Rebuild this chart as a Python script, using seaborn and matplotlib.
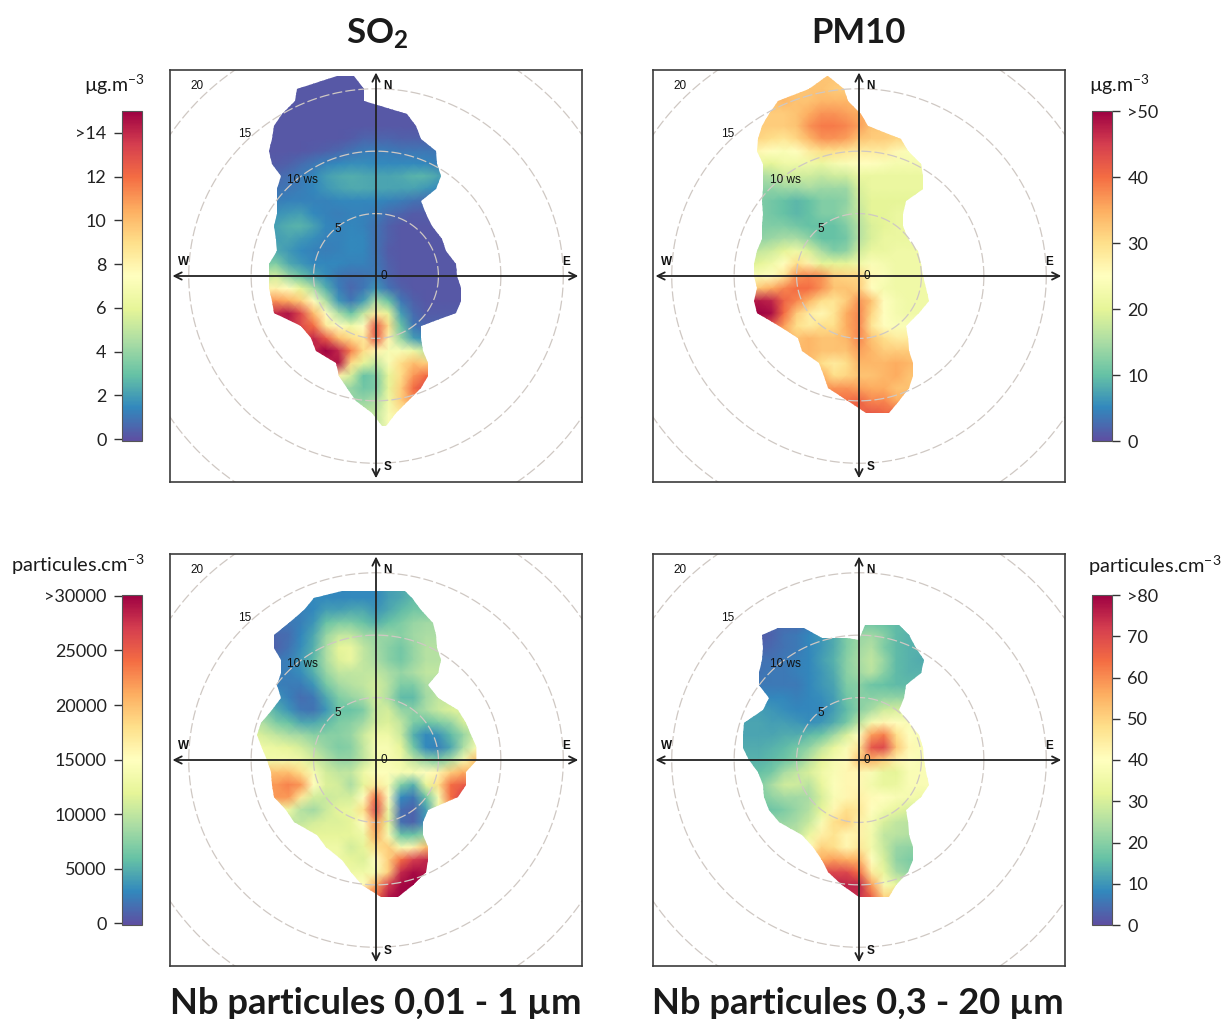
# plot.py
# Roses de pollution (SO2, PM10, nombre de particules) vent / concentration
import numpy as np
import matplotlib
matplotlib.use("Agg")
import matplotlib.pyplot as plt
from matplotlib.patches import Polygon
import seaborn as sns

sns.set_theme(style="white")
plt.rcParams["font.family"] = ["Lato", "DejaVu Sans"]
plt.rcParams["mathtext.fontset"] = "custom"
plt.rcParams["mathtext.rm"] = "Lato"
plt.rcParams["mathtext.bf"] = "Lato:bold"
plt.rcParams["mathtext.default"] = "rm"

# lignes du contour (de 16 a -12 ws), bords gauche / droit
rows_y = list(range(16, -13, -1))
nan = float("nan")

# chaque ligne de valeurs : (ws est-ouest de la 1ere valeur, valeurs tous les 1 ws)
so2_x = list(range(-9, 8))
so2_y = list(range(16, -13, -1))
so2_rows = [
    (-9, [.2]), (-9, [.2]), (-9, [.2]), (-9, [.2]), (-9, [.2]),
    (-4, [.2, .2, .3, .5, .5, .5, .4, .4, .4, .4]),
    (-8, [.2, .2, .2, .3, .4, .6, .9, 1.1, 1.2, 1.1, 1.0, 1.0, 1.0, 1.0]),
    (-8, [.3, .4, .7, 1.0, 1.3, 1.5, 1.6, 1.6, 1.5, 1.5, 1.5, 1.5, 1.4, 1.2]),
    (-8, [.6, .8, 1.1, 1.4, 2.0, 2.3, 2.4, 2.3, 2.2, 2.2, 2.3, 2.6, 2.6, 2.2]),
    (-8, [.9, 1.0, 1.2, 1.4, 1.8, 2.1, 2.3, 2.3, 2.2, 2.2, 2.1, 2.1, 1.8, 1.5]),
    (-8, [1.2, 1.3, 1.3, 1.3, 1.3, 1.4, 1.4, 1.4, 1.4, 1.3, 1.1, .9, .7]),
    (-8, [1.7, 1.9, 2.0, 1.5, 1.3, 1.2, 1.3, 1.3, 1.1, .7, .5, .3, .3]),
    (-8, [2.1, 2.5, 2.6, 2.1, 1.4, 1.3, 1.4, 1.3, .9, .4, .2]),
    (-8, [2.0, 2.2, 1.9, 1.6, 1.3, 1.3, 1.5, 1.4, .9, .4, .2]),
    (-8, [2.3, 1.9, 1.5, 1.3, 1.2, 1.3, 1.5, 1.4, .9, .3, .2]),
    (-8, [3.5, 2.3, 1.8, 1.4, 1.4, 1.4, 1.3, 1.3, 1.0, .4, .2]),
    (-9, [5.0, 5.5, 4.0, 3.0, 2.2, 1.6, 1.0, .8, .9, 1.1, .5, .2]),
    (-8, [8.0, 7.5, 6.0, 4.5, 2.5, 1.2, .6, 1.0, 1.8, .9, .4, .2]),
    (-8, [11, 10.5, 9.5, 7.5, 4.5, 1.8, 1.0, 2.0, 4.5, 3.0, 1.0, .4, .2]),
    (-8, [14, 14.5, 13, 10, 7.5, 4.5, 3.0, 5.0, 8.5, 6.0, 2.0, .7, .3]),
    (-8, [14, 14, 13, 12, 8.5, 7.5, 6.5, 7.5, 12.5, 9.0, 3.0, 1.0, .5]),
    (-6, [12, 14, 12.5, 10, 9.0, 8.5, 12.5, 8.0, 4.0, 2.0, 1.5]),
    (-5, [14, 15, 14, 11.5, 9.0, 8.0, 7.0, 7.0, 6.5, 5.0]),
    (-4, [14, 14.5, 9.0, 6.0, 5.0, 7.0, 9.0, 10, 9.5]),
    (-3, [8.0, 5.5, 3.0, 3.5, 6.0, 9.0, 11, 12]),
    (-2, [4.0, 3.2, 3.5, 6.0, 9.5, 12, 13]),
    (-1, [4.0, 4.5, 6.5, 9.5, 11]),
    (0, [5.0, 7.0, 8.5]),
    (0, [5.0, 7.0]),
]
so2_left = [-3.1, -6.3, -6.5, -7.5, -8.2, -8.3, -8.6, -8.3, -7.6, -7.9, -7.9, -7.9, -8.2, -8.0, -7.9,
            -8.6, -8.6, -8.6, -8.3, -8.2, -6.0, -5.2, -4.8, -3.2, -3.0, -2.3, -1.6, -.3, .5]
so2_right = [-1.8, -1.0, -1.0, 2.5, 3.2, 3.6, 4.8, 4.9, 5.2, 4.8, 3.6, 4.0, 4.5, 5.3, 5.6,
             6.4, 6.5, 6.8, 6.8, 6.4, 3.6, 3.6, 3.8, 4.2, 4.2, 3.6, 2.6, 1.6, .8]

pm10_x = list(range(-9, 7))
pm10_y = list(range(16, -13, -1))
pm10_rows = [
    (-9, [33]),
    (-4, [33, 33, 32, 32]),
    (-7, [33, 34, 33, 33, 34, 34, 34, 33]),
    (-7, [32, 32, 33, 35, 37, 37, 36, 35]),
    (-8, [32, 32, 32, 33, 37, 39, 39, 38, 36, 33, 32, 32]),
    (-8, [31, 30, 29, 31, 34, 37, 37, 36, 33, 32, 32, 31, 31]),
    (-8, [26, 25, 24, 25, 28, 30, 30, 29, 28, 28, 28, 26, 24]),
    (-8, [21, 20, 22, 22, 22, 21, 23, 24, 25, 25, 24, 23, 23, 23]),
    (-8, [15, 16, 18, 18, 18, 17, 18, 18, 21, 21, 21, 21, 21, 21]),
    (-8, [13, 13, 14, 14, 15, 14, 14, 14, 19, 21, 21, 21, 21, 21]),
    (-8, [12, 11, 10, 9, 10, 12, 12, 13, 18, 20, 20, 20, 20]),
    (-8, [12, 11, 10, 9, 10, 12, 12, 14, 17, 20, 20, 21]),
    (-8, [12, 12, 12, 11, 10, 10, 10, 12, 16, 19, 20, 21, 21]),
    (-8, [13, 14, 15, 15, 13, 10, 10, 11, 16, 19, 21, 21, 21]),
    (-9, [16, 17, 18, 20, 22, 19, 15, 12, 13, 18, 21, 21, 22, 22, 22]),
    (-9, [19, 20, 22, 25, 30, 27, 20, 20, 20, 22, 24, 23, 22, 22, 22]),
    (-8, [24, 25, 29, 37, 38, 37, 32, 31, 31, 26, 24, 22, 22, 22]),
    (-9, [30, 33, 35, 38, 40, 40, 37, 33, 33, 32, 25, 23, 22, 22, 22]),
    (-9, [48, 48, 47, 41, 38, 34, 30, 29, 32, 37, 33, 25, 23, 22, 22]),
    (-9, [49, 50, 49, 40, 32, 28, 26, 29, 35, 38, 31, 25, 23, 22]),
    (-8, [45, 42, 36, 30, 28, 30, 30, 35, 38, 29, 25, 24, 24]),
    (-5, [33, 34, 33, 33, 34, 38, 33, 30, 28, 28]),
    (-4, [34, 33, 33, 33, 36, 34, 32, 32, 32]),
    (-4, [34, 30, 28, 30, 34, 34, 34, 35, 34]),
    (-3, [35, 30, 31, 33, 33, 34, 35, 33]),
    (-3, [36, 37, 37, 36, 35, 35, 33, 33]),
    (-1, [40, 41, 38, 38, 35]),
    (0, [41, 42, 41]),
    (0, [42]),
]
pm10_left = [-2.6, -4.0, -6.5, -7.2, -7.8, -8.1, -8.2, -7.7, -7.7, -7.7, -7.8, -7.7, -7.8, -7.8, -8.2,
             -8.4, -8.4, -8.2, -8.4, -8.2, -6.4, -4.9, -4.6, -3.2, -2.8, -2.5, -.9, .6, nan]
pm10_right = [-2.5, -1.2, -.9, .2, .7, 3.4, 3.9, 5.0, 5.1, 5.1, 3.8, 3.5, 3.5, 3.9, 4.7,
              5.0, 5.1, 5.4, 5.6, 4.8, 3.8, 3.9, 4.0, 4.3, 4.3, 4.0, 3.2, 2.4, nan]

# en milliers de particules
fines_x = list(range(-10, 9))
fines_y = list(range(14, -13, -1))
fines_rows = [
    (-5, [3.0, 3.0, 2.8, 3.0, 3.0, 3.0, 4.0, 4.5, 5.5]),
    (-5, [3.0, 3.0, 2.8, 3.0, 3.0, 3.0, 4.0, 4.5, 5.5]),
    (-6, [2.5, 3.0, 4.0, 4.0, 4.5, 4.5, 3.5, 4.5, 5.5, 6.5]),
    (-7, [2.0, 2.5, 3.5, 6.0, 7.0, 7.0, 6.0, 5.0, 6.0, 7.0, 8.0, 8.5]),
    (-8, [1.2, 1.5, 2.8, 4.5, 8.0, 10, 10, 8.5, 8.0, 8.0, 7.5, 8.5, 9.0]),
    (-8, [1.0, 1.8, 3.2, 5.0, 9.0, 12, 12.5, 10, 8.5, 7.5, 6.5, 8.0, 9.5]),
    (-8, [2.0, 2.5, 3.8, 5.5, 9.0, 11.5, 12.5, 10, 9.0, 7.5, 6.5, 8.0, 9.5]),
    (-8, [2.3, 2.5, 3.2, 5.0, 8.0, 10, 10, 10, 10, 9.0, 8.0, 9.0, 10]),
    (-8, [2.5, 2.3, 2.3, 3.5, 6.5, 8.5, 9.5, 10, 11, 9.5, 7.0, 7.0, 9.0]),
    (-8, [3.5, 2.5, 1.5, 2.0, 4.5, 7.0, 8.0, 9.0, 11, 9.0, 5.5, 5.5, 8.5, 10]),
    (-9, [7.0, 5.0, 3.5, 2.0, 1.8, 3.5, 6.0, 6.0, 7.0, 10.5, 11, 8.0, 7.5, 9.0, 10.5, 11.5]),
    (-9, [9.0, 7.0, 6.0, 4.5, 4.5, 5.5, 7.0, 7.5, 8.5, 11, 11.5, 10, 7.0, 6.0, 7.0, 8.0, 11]),
    (-10, [12, 11, 10, 9.0, 8.5, 7.5, 7.5, 7.5, 8.0, 10.5, 13, 13, 10.5, 5.0, 3.0, 3.5, 5.5, 8.0, 11]),
    (-9, [13, 12.5, 12, 11, 9.5, 8.0, 7.0, 7.5, 10, 14, 14, 12, 6.5, 3.0, 2.5, 4.5, 9.0, 14]),
    (-9, [13, 13.5, 13.5, 13, 11, 9.5, 8.0, 8.0, 10, 13.5, 14, 13, 10, 8.0, 7.0, 9.0, 14, 20]),
    (-8, [20, 20, 18, 14, 11, 10, 10, 13, 14.5, 14.5, 14, 14, 15, 16, 19, 21, 18]),
    (-8, [22, 23, 22, 15, 11.5, 11, 9.0, 12, 17, 14, 7.0, 5.0, 12, 18, 24, 25]),
    (-8, [22, 22, 17, 11, 10.5, 11, 11, 15, 24, 15, 3.0, 2.0, 6.0, 14, 24, 27]),
    (-7, [13, 9.5, 8.5, 10.5, 12, 12.5, 18, 26, 13, 1.5, 1.0, 4.0, 13, 20]),
    (-6, [10, 11, 11.5, 11.5, 12, 15, 22, 12, 1.5, 1.0, 3.5]),
    (-4, [12, 12, 12, 13, 21, 14, 6.0, 6.0, 8.0]),
    (-4, [13, 13, 11, 12, 18, 19, 14, 16, 20]),
    (-3, [13, 12, 11.5, 15, 19, 24, 27, 28]),
    (-2, [13, 13, 14, 19, 28, 29.5, 29]),
    (-1, [15, 21, 27, 29.5, 30]),
    (0, [24, 29, 30]),
    (0, [24, 29, 30]),
]
fines_left = [nan, nan, nan, -5.0, -5.8, -7.0, -8.2, -8.2, -7.6, -7.6, -7.9, -7.6, -8.3, -9.2, -9.5,
              -9.1, -8.7, -8.4, -8.3, -8.2, -7.2, -6.6, -4.7, -4.0, -2.7, -2.0, -1.1, .4, nan]
fines_right = [nan, nan, nan, 2.9, 3.6, 4.6, 4.8, 4.9, 5.2, 5.0, 4.2, 5.0, 6.6, 7.2, 7.6,
               8.1, 8.1, 7.2, 7.2, 6.6, 4.2, 3.8, 3.8, 4.2, 4.2, 4.0, 3.0, 1.8, nan]
fines_top_x = [-2.7, 2.3]
fines_top_y = [13.5, 13.5]

grosses_x = list(range(-10, 7))
grosses_y = list(range(11, -12, -1))
grosses_rows = [
    (-7, [4, 4, 4, 6, 8, 10, 14, 17, 17, 16, 15]),
    (-8, [2, 3, 5, 6, 8, 10, 13, 19, 22, 23, 20, 15, 14]),
    (-8, [3, 4, 5, 6, 8, 10, 13, 19, 23, 25, 19, 15, 14, 14]),
    (-8, [5, 5, 6, 7, 8, 11, 14, 20, 24, 27, 22, 15, 14, 13]),
    (-8, [5, 6, 6, 7, 8, 10, 13, 20, 23, 26, 20, 15, 14, 14]),
    (-8, [6, 6, 6, 6, 8, 10, 12, 19, 20, 17, 16, 15, 15]),
    (-8, [8, 8, 8, 7, 8, 9, 11, 17, 20, 20, 21, 21]),
    (-9, [11, 11, 10, 9, 8, 8, 8, 11, 15, 20, 24, 29, 30]),
    (-9, [12, 12, 11, 11, 10, 9, 10, 13, 18, 26, 37, 42, 40, 38]),
    (-9, [12, 12, 12, 13, 13, 15, 17, 23, 30, 40, 58, 62, 48, 40, 37]),
    (-9, [13, 13, 14, 15, 18, 21, 27, 33, 38, 46, 68, 70, 52, 42, 38]),
    (-9, [14, 14, 15, 17, 20, 26, 32, 37, 41, 52, 55, 50, 43, 40, 38]),
    (-8, [16, 18, 24, 27, 30, 35, 38, 42, 42, 38, 33, 32, 38, 38]),
    (-8, [19, 24, 29, 29, 26, 33, 39, 42, 42, 36, 33, 34, 38, 38]),
    (-8, [19, 21, 23, 23, 24, 30, 38, 42, 44, 41, 40, 38, 37, 35]),
    (-7, [17, 19, 22, 25, 32, 42, 48, 46, 40, 36, 33, 30]),
    (-6, [22, 24, 28, 38, 48, 50, 44, 37, 30, 27, 26]),
    (-5, [26, 34, 44, 47, 42, 44, 36, 27, 26, 25]),
    (-4, [40, 50, 48, 42, 46, 36, 28, 22, 21]),
    (-4, [55, 56, 58, 56, 55, 40, 30, 21, 19]),
    (-3, [70, 70, 70, 64, 45, 33, 24, 21]),
    (-1, [75, 75, 58, 38, 33]),
    (0, [74, 66, 50]),
]
grosses_left = [nan, nan, nan, nan, nan, nan, -7.8, -7.7, -7.8, -8.0, -8.0, -7.2, -7.7, -9.2, -9.3,
                -9.3, -8.8, -8.1, -7.7, -7.6, -7.2, -6.4, -4.6, -3.7, -3.0, -2.5, -1.4, 0.0, nan]
grosses_right = [nan, nan, nan, nan, nan, nan, 4.0, 4.6, 5.2, 5.0, 3.8, 3.6, 3.2, 4.0, 4.8,
                 5.1, 5.2, 5.4, 5.6, 5.0, 3.8, 3.9, 4.0, 4.3, 4.3, 3.9, 3.0, 2.4, nan]
# haut du contour avec son encoche
grosses_top_x = [-6.5, -4.4, -3.0, -1.0, 0.0, .5, 3.2]
grosses_top_y = [10.6, 10.6, 9.8, 9.8, 9.6, 10.8, 10.8]

so2_ticks = [0, 2, 4, 6, 8, 10, 12, 14]
so2_labels = ["0", "2", "4", "6", "8", "10", "12", ">14"]
pm10_ticks = [0, 10, 20, 30, 40, 50]
pm10_labels = ["0", "10", "20", "30", "40", ">50"]
fines_ticks = [0, 5, 10, 15, 20, 25, 30]
fines_labels = ["0", "5000", "10000", "15000", "20000", "25000", ">30000"]
grosses_ticks = [0, 10, 20, 30, 40, 50, 60, 70, 80]
grosses_labels = ["0", "10", "20", "30", "40", "50", "60", "70", ">80"]

rings = [5, 10, 15, 20]
ring_labels = [("20", -14.3, 15.2), ("15", -10.5, 11.4), ("10 ws", -5.9, 7.7), ("5", -3.1, 3.8), ("0", .6, 0)]
compass = [("N", .95, 15.2), ("S", .95, -15.3), ("W", -15.4, 1.1), ("E", 15.2, 1.1)]

W, H = 1224, 1019
fig = plt.figure(figsize=(W / 100, H / 100), dpi=100, facecolor="white")
cmap = sns.color_palette("Spectral_r", as_cmap=True)
LIM = 16.5


def rect(x0, y0, x1, y1):
    return [x0 / W, 1 - y1 / H, (x1 - x0) / W, (y1 - y0) / H]


def contour(left, right, top_x=None, top_y=None):
    left_pts = [(x, y) for x, y in zip(left, rows_y) if not np.isnan(x)]
    right_pts = [(x, y) for x, y in zip(right, rows_y) if not np.isnan(x)]
    top = list(zip(top_x, top_y)) if top_x else []
    return left_pts[::-1] + top + right_pts


def to_grid(xs, rows):
    # complete chaque ligne hors du contour avec sa valeur du bord (cache par le contour)
    grid = []
    for start, vals in rows:
        i = xs.index(start)
        line = [vals[0]] * i + vals
        line = line + [vals[-1]] * (len(xs) - len(line))
        grid.append(line)
    return np.array(grid, dtype=float)


def panel(box, bar_box, xs, ys, rows, vmin, vmax, outline, ticks, labels, side):
    ax = fig.add_axes(rect(*box))
    cax = fig.add_axes(rect(*bar_box))
    sns.heatmap(to_grid(xs, rows), ax=ax, cmap=cmap, vmin=vmin, vmax=vmax,
                cbar_ax=cax, shading="gouraud", xticklabels=False, yticklabels=False)
    ax.set_xlim(-LIM - xs[0], LIM - xs[0])
    ax.set_ylim(ys[0] + LIM, ys[0] - LIM)
    ax.axis("off")

    ov = fig.add_axes(rect(*box), facecolor="none")
    ov.set_xlim(-LIM, LIM)
    ov.set_ylim(-LIM, LIM)
    ov.set_xticks([])
    ov.set_yticks([])
    for s in ov.spines.values():
        s.set_visible(True)
        s.set_color("#3c3c3c")
        s.set_linewidth(1.2)
    ax.collections[0].set_clip_path(Polygon(outline, closed=True, transform=ov.transData))

    t = np.linspace(0, 2 * np.pi, 361)
    for r in rings:
        ov.plot(r * np.cos(t), r * np.sin(t), color="#cfc8c3", lw=.9, dashes=(8, 2.5))
    arrow = dict(arrowstyle="<->", color="#222222", lw=1.3, shrinkA=0, shrinkB=0, mutation_scale=13)
    ov.annotate("", xy=(-16.3, 0), xytext=(16.2, 0), arrowprops=arrow)
    ov.annotate("", xy=(0, 16.3), xytext=(0, -16.2), arrowprops=arrow)
    for txt, x, y in ring_labels:
        ov.text(x, y, txt, fontsize=8.5, ha="center", va="center", family="Liberation Sans", color="#111111")
    for txt, x, y in compass:
        ov.text(x, y, txt, fontsize=8.5, ha="center", va="center", family="Liberation Sans",
                fontweight="bold", color="#111111")

    cbar = ax.collections[0].colorbar
    cbar.set_ticks(ticks)
    cbar.set_ticklabels(labels)
    cbar.ax.yaxis.set_ticks_position(side)
    cbar.ax.tick_params(labelsize=13, length=6, width=1.0, color="#333333", labelcolor="#222222", pad=5)
    cbar.outline.set_edgecolor("#555555")
    cbar.outline.set_linewidth(.8)


panel((170, 70, 582, 482), (122, 111, 142, 441), so2_x, so2_y, so2_rows, -.09, 15,
      contour(so2_left, so2_right), so2_ticks, so2_labels, "left")
panel((653, 70, 1065, 482), (1092, 111, 1112, 441), pm10_x, pm10_y, pm10_rows, 0, 50,
      contour(pm10_left, pm10_right), pm10_ticks, pm10_labels, "right")
panel((170, 554, 582, 966), (122, 595, 142, 925), fines_x, fines_y, fines_rows, -.18, 30.09,
      contour(fines_left, fines_right, fines_top_x, fines_top_y), fines_ticks, fines_labels, "left")
panel((653, 554, 1065, 966), (1092, 595, 1112, 925), grosses_x, grosses_y, grosses_rows, 0, 80,
      contour(grosses_left, grosses_right, grosses_top_x, grosses_top_y), grosses_ticks, grosses_labels, "right")


def label(x, y, txt, **kw):
    fig.text(x / W, 1 - y / H, txt, ha="center", va="center", color="#1a1a1a", **kw)


label(377, 34, r"SO$_{\mathbf{2}}$", fontsize=25, fontweight="bold")
label(858, 33, "PM10", fontsize=25, fontweight="bold")
label(376, 1003, "Nb particules 0,01 - 1 µm", fontsize=26.2, fontweight="bold")
label(858, 1003, "Nb particules 0,3 - 20 µm", fontsize=26.2, fontweight="bold")
label(114, 85, "µg.m$^{-3}$", fontsize=14)
label(1119, 85, "µg.m$^{-3}$", fontsize=14)
label(78, 565, "particules.cm$^{-3}$", fontsize=14.4)
label(1155, 566, "particules.cm$^{-3}$", fontsize=14.4)

fig.savefig("out.png", dpi=100)
